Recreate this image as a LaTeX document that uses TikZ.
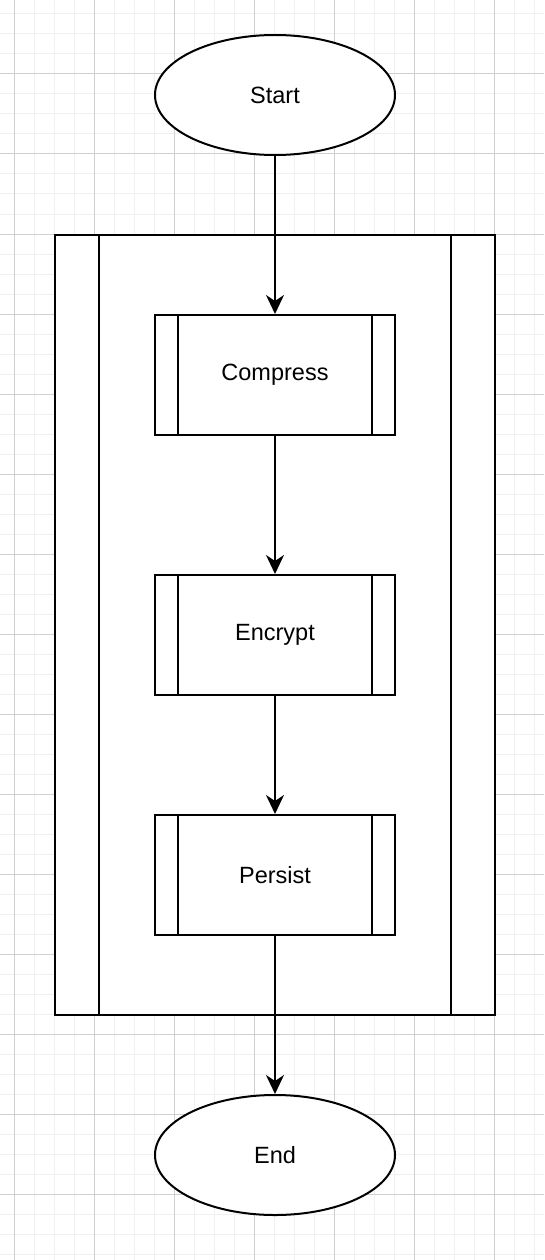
\documentclass[tikz,border=0pt]{standalone}
\usepackage{fontspec}
\setmainfont{Liberation Sans}
\usetikzlibrary{shapes.geometric,arrows.meta}
\definecolor{gridminor}{HTML}{F0F0F0}
\definecolor{gridmajor}{HTML}{D0D0D0}
\begin{document}
\begin{tikzpicture}[x=1pt,y=-1pt,
  line width=2pt,
  lbl/.style={font=\fontsize{23.5}{28}\selectfont},
  term/.style={ellipse,draw=black,fill=white,minimum width=240pt,minimum height=120pt,inner sep=0pt,lbl},
  proc/.style={rectangle,draw=black,fill=white,minimum width=240pt,minimum height=120pt,inner sep=0pt,lbl},
  flow/.style={draw=black,line width=2pt,-{Stealth[length=19pt,width=18pt,inset=6pt]}}
]
\useasboundingbox (0,0) rectangle (544,1260);
\fill[white] (0,0) rectangle (544,1260);
% grid
\foreach \i in {0,...,27} {\draw[gridminor,line width=1pt] (14+20*\i,0) -- (14+20*\i,1260);}
\foreach \i in {0,...,62} {\draw[gridminor,line width=1pt] (0,14+20*\i) -- (544,14+20*\i);}
\foreach \i in {0,...,6} {\draw[gridmajor,line width=1pt] (14+80*\i,0) -- (14+80*\i,1260);}
\foreach \i in {0,...,15} {\draw[gridmajor,line width=1pt] (0,74+80*\i) -- (544,74+80*\i);}
% container
\node[draw=black,fill=white,minimum width=440pt,minimum height=780pt,inner sep=0pt] (cont) at (275,625) {};
\draw (99,235) -- (99,1015);
\draw (451,235) -- (451,1015);
% nodes
\node[term] (start) at (275,95) {Start};
\node[proc] (comp) at (275,375) {Compress};
\node[proc] (enc) at (275,635) {Encrypt};
\node[proc] (pers) at (275,875) {Persist};
\node[term] (end) at (275,1155) {End};
\foreach \n in {comp,enc,pers} {
  \draw ([xshift=24pt]\n.north west) -- ([xshift=24pt]\n.south west);
  \draw ([xshift=-24pt]\n.north east) -- ([xshift=-24pt]\n.south east);
}
% connectors
\draw[flow] (start) -- (comp);
\draw[flow] (comp) -- (enc);
\draw[flow] (enc) -- (pers);
\draw[flow] (pers) -- (end);
\end{tikzpicture}
\end{document}
